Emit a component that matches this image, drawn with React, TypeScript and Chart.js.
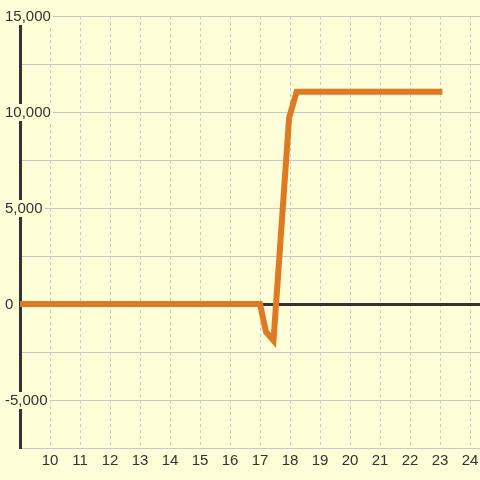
import React, { useEffect, useRef } from "react";
import { Chart, registerables } from "chart.js";

Chart.register(...registerables);

const xValues = [9, 17, 17.2, 17.45, 17.97, 18.22, 23.08];
const yValues = [0, 0, -1450, -1900, 9700, 11050, 11050];
const yTickStep = 2500;
const yLabelStep = 5000;
const xMin = 9;
const xMax = 24.333;
const yMin = -7500;
const yMax = 15000;

const BG = "#fdfdd7";
const FONT = "'Liberation Sans', Arial, sans-serif";

export default function App() {
  const ref = useRef<HTMLCanvasElement>(null);
  useEffect(() => {
    const bgPlugin = {
      id: "bg",
      beforeDraw(chart: any) {
        const c = chart.ctx;
        c.save();
        c.fillStyle = BG;
        c.fillRect(0, 0, chart.width, chart.height);
        c.restore();
      },
    };
    // y tick labels, drawn from the y scale's own ticks, with a backdrop over the axis line
    const yLabelPlugin = {
      id: "yLabels",
      afterDraw(chart: any) {
        const c = chart.ctx;
        const ys = chart.scales.y;
        c.save();
        c.font = `15px ${FONT}`;
        c.textBaseline = "middle";
        c.textAlign = "left";
        ys.ticks.forEach((t: any) => {
          if (t.value % yLabelStep !== 0) return;
          const label = Number(t.value).toLocaleString("en-US");
          const py = ys.getPixelForValue(t.value);
          const w = c.measureText(label).width;
          const lx = 5;
          c.fillStyle = BG;
          c.fillRect(lx - 2, py - 8, w + 4, 17);
          c.fillStyle = "#333";
          c.fillText(label, lx, py + 1);
        });
        c.restore();
      },
    };
    const chart = new Chart(ref.current!, {
      type: "line",
      data: {
        datasets: [
          {
            data: xValues.map((x, i) => ({ x, y: yValues[i] })),
            borderColor: "#df7a24",
            borderWidth: 6,
            pointRadius: 0,
            tension: 0,
            borderJoinStyle: "miter",
            borderCapStyle: "butt",
            fill: false,
          },
        ],
      },
      options: {
        animation: false,
        responsive: false,
        layout: { padding: { left: 20, top: 16, right: 0, bottom: 6 } },
        plugins: { legend: { display: false }, tooltip: { enabled: false } },
        scales: {
          x: {
            type: "linear",
            min: xMin,
            max: xMax,
            grid: { color: "#c8c8c8", lineWidth: 1, drawTicks: false },
            border: { color: "#c8c8c8", width: 1, dash: [3, 3] },
            ticks: {
              stepSize: 1,
              includeBounds: false,
              padding: 0,
              color: "#333",
              font: { family: FONT, size: 15, lineHeight: 1.733 },
              maxRotation: 0,
              autoSkip: false,
              callback: (v: any) => (v === xMin ? null : String(v)),
            },
          },
          y: {
            type: "linear",
            min: yMin,
            max: yMax,
            grid: {
              drawTicks: false,
              color: (c: any) => (c.tick && c.tick.value === 0 ? "#333" : "#c8c8c8"),
              lineWidth: (c: any) => (c.tick && c.tick.value === 0 ? 3 : 1),
            },
            border: { display: true, color: "#333", width: 3 },
            ticks: {
              display: false,
              stepSize: yTickStep,
              padding: 0,
            },
          },
        },
      },
      plugins: [bgPlugin, yLabelPlugin],
    });
    return () => chart.destroy();
  }, []);
  return (
    <div style={{ position: "fixed", left: 0, top: 0, width: 480, height: 480, background: BG }}>
      <canvas ref={ref} width={480} height={480} />
    </div>
  );
}
